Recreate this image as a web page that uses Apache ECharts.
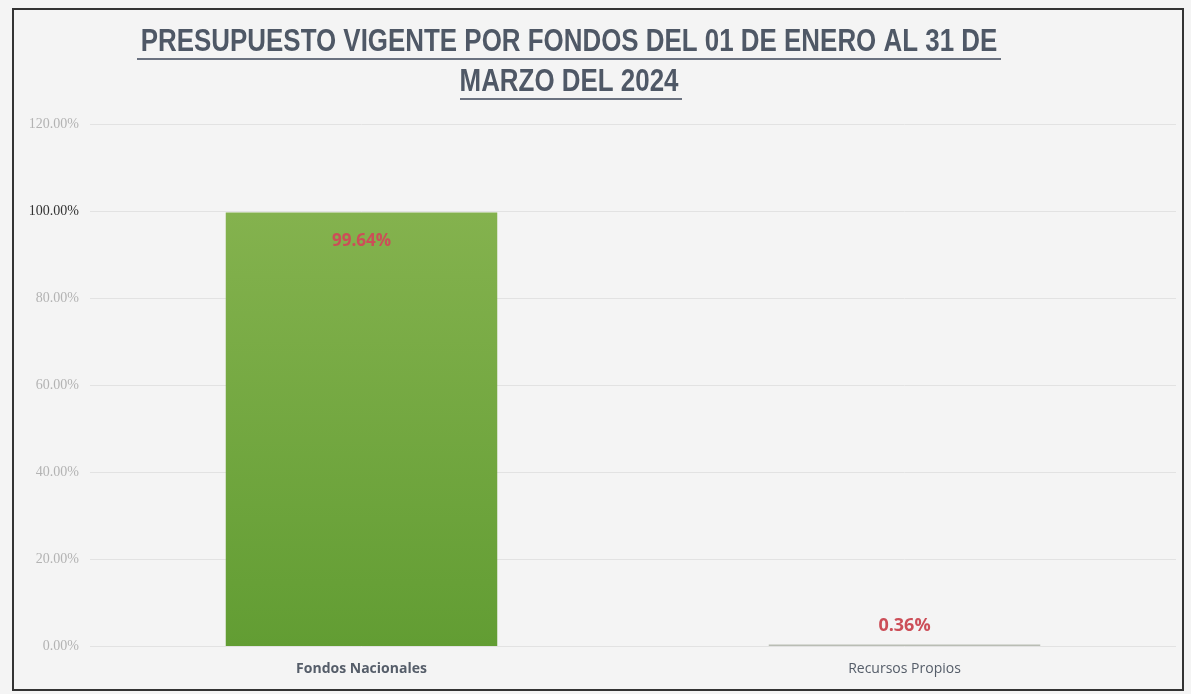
<!DOCTYPE html>
<html>
<head>
<meta charset="utf-8">
<style>
  html, body { margin: 0; padding: 0; background: #f4f4f4; }
  #chart { width: 1191px; height: 694px; }
</style>
<script src="https://cdn.jsdelivr.net/npm/echarts@6/dist/echarts.min.js"></script>
</head>
<body>
<div id="chart"></div>
<script>
const categories = ["Fondos Nacionales", "Recursos Propios"];
const values = [99.64, 0.36];
const yTicks = [0, 20, 40, 60, 80, 100, 120];
const titleLines = ["PRESUPUESTO VIGENTE POR FONDOS DEL 01 DE ENERO AL 31 DE", "MARZO DEL 2024"];

const chart = echarts.init(document.getElementById("chart"));

const titleFont = {
  fontFamily: "Liberation Sans",
  fontSize: 32,
  fontWeight: "bold",
  fill: "#4f5866",
  align: "center",
  verticalAlign: "middle"
};

const option = {
  backgroundColor: "#f4f4f4",
  graphic: [
    { type: "rect", shape: { x: 13, y: 9, width: 1170, height: 681 },
      style: { fill: "none", stroke: "#333", lineWidth: 2 } },
    {
      type: "group", x: 569, y: 0, scaleX: 0.81,
      children: [
        { type: "text", x: 0, y: 42, style: Object.assign({ text: titleLines[0] }, titleFont) },
        { type: "text", x: 0, y: 82, style: Object.assign({ text: titleLines[1] }, titleFont) }
      ]
    },
    { type: "line", shape: { x1: 137, y1: 59, x2: 1001, y2: 59 },
      style: { stroke: "#6b7280", lineWidth: 2 } },
    { type: "line", shape: { x1: 460, y1: 99, x2: 682, y2: 99 },
      style: { stroke: "#6b7280", lineWidth: 2 } }
  ],
  grid: { left: 90, right: 15, top: 124, bottom: 48 },
  xAxis: {
    type: "category",
    data: categories,
    axisLine: { show: false },
    axisTick: { show: false },
    axisLabel: {
      margin: 16,
      fontFamily: "Open Sans",
      fontSize: 14,
      color: "#555d69",
      formatter: (v, i) => i === 0 ? "{b|" + v + "}" : v,
      rich: { b: { fontWeight: "bold", fontFamily: "Open Sans", fontSize: 14, color: "#555d69" } }
    }
  },
  yAxis: {
    type: "value",
    min: 0,
    max: 120,
    interval: 20,
    axisLabel: {
      margin: 11,
      fontFamily: "Liberation Serif",
      fontSize: 14,
      color: "#b3b3b3",
      formatter: v => {
        if (!yTicks.includes(v)) return "";
        const s = v.toFixed(2) + "%";
        return v === 100 ? "{d|" + s + "}" : s;
      },
      rich: { d: { fontFamily: "Liberation Serif", fontSize: 14, color: "#333" } }
    },
    splitLine: { lineStyle: { color: "#e2e2e2", width: 1 } }
  },
  series: [{
    type: "bar",
    barWidth: "50%",
    itemStyle: {
      color: new echarts.graphic.LinearGradient(0, 0, 0, 1, [
        { offset: 0, color: "#84b24e" },
        { offset: 1, color: "#629d33" }
      ])
    },
    label: {
      show: true,
      formatter: p => p.value.toFixed(2) + "%",
      color: "#cc4e58",
      fontWeight: "bold",
      fontFamily: "Open Sans",
      fontSize: 17
    },
    data: values.map((v, i) => ({
      value: v,
      label: i === 0
        ? { position: "insideTop", distance: 20 }
        : { position: "top", distance: 10, fontSize: 18 },
      itemStyle: i === 1 ? { color: "#b9bdb4" } : undefined
    }))
  }]
};

chart.setOption(option);
</script>
</body>
</html>
